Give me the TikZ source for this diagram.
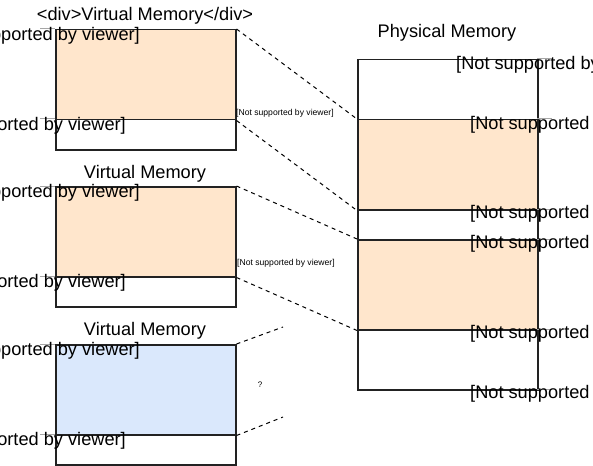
\documentclass[tikz,border=0pt]{standalone}
\usepackage{fontspec}
\setmainfont{Liberation Sans}
\definecolor{peach}{HTML}{FFE6CC}
\definecolor{paleblue}{HTML}{DAE8FC}
\definecolor{edge}{HTML}{222222}

\tikzset{
	seg/.style={draw=edge,line width=1.5pt,inner sep=0pt,minimum width=180pt,anchor=north west},
	title/.style={font=\fontsize{18.2}{21}\selectfont,inner sep=0pt},
	lbl/.style={font=\fontsize{18.2}{21}\selectfont,inner sep=0pt},
	tiny/.style={font=\fontsize{8.6}{10}\selectfont,inner sep=0pt,anchor=west},
	tick/.style={draw=gray!70,line width=1pt},
	map/.style={draw=black,line width=1pt,dash pattern=on 4pt off 4pt}
}

\begin{document}
\begin{tikzpicture}[x=1pt,y=-1pt]
	\useasboundingbox (0,0) rectangle (593,465);

	% virtual memory blocks
	\node[seg,fill=peach,minimum height=90pt] (vmA) at (55,29) {};
	\node[seg,minimum height=30pt] (vmAfree) at (55,119) {};
	\node[seg,fill=peach,minimum height=90pt] (vmB) at (55,186) {};
	\node[seg,minimum height=30pt] (vmBfree) at (55,276) {};
	\node[seg,fill=paleblue,minimum height=90pt] (vmC) at (55,344) {};
	\node[seg,minimum height=30pt] (vmCfree) at (55,434) {};

	\node[title] (tA) at (145,15.5) {<div>Virtual Memory</div>};
	\node[title] (tB) at (145,174) {Virtual Memory};
	\node[title] (tC) at (145,331) {Virtual Memory};

	% physical memory
	\node[seg,minimum height=60pt] (pmTop) at (357,59) {};
	\node[seg,fill=peach,minimum height=90pt] (pmA) at (357,119) {};
	\node[seg,minimum height=30pt] (pmGap) at (357,209) {};
	\node[seg,fill=peach,minimum height=90pt] (pmB) at (357,239) {};
	\node[seg,minimum height=60pt] (pmBot) at (357,329) {};
	\node[title] (tP) at (447,33) {Physical Memory};

	% ticks and labels on the left
	\foreach \y [count=\i] in {29,119,186,276,344,434} {
		\coordinate (lt\i) at (40,\y);
		\draw[tick] (lt\i) -- ++(15,0);
	}
	\foreach \y [count=\i] in {29,186,344} {
		\node[lbl,anchor=east] (lu\i) at (140,\y+6.5) {[Not supported by viewer]};
	}
	\foreach \y [count=\i] in {119,276,434} {
		\node[lbl,anchor=east] (ls\i) at (126,\y+6.5) {[Not supported by viewer]};
	}

	% ticks and labels on the right
	\foreach \y [count=\i] in {59,119,209,239,329,389} {
		\coordinate (rt\i) at (537,\y);
		\draw[tick] (rt\i) -- ++(15,0);
	}
	\node[lbl,anchor=west] (rl1) at (456,65) {[Not supported by viewer]};
	\foreach \y [count=\i from 2] in {125,214,244,334,394} {
		\node[lbl,anchor=west] (rl\i) at (470,\y) {[Not supported by viewer]};
	}

	% mappings
	\draw[map] (vmA.north east) -- (pmA.north west);
	\draw[map] (vmA.south east) -- (pmA.south west);
	\draw[map] (vmB.north east) -- (pmB.north west);
	\draw[map] (vmB.south east) -- (pmB.south west);
	\coordinate (qTop) at (283,327);
	\coordinate (qBot) at (283,417);
	\draw[map] (vmC.north east) -- (qTop);
	\draw[map] (vmC.south east) -- (qBot);

	\node[tiny] (sA) at (236,113) {[Not supported by viewer]};
	\node[tiny] (sB) at (237,263) {[Not supported by viewer]};
	\node[font=\fontsize{8}{9}\selectfont,inner sep=0pt] (q) at (260,385) {?};
\end{tikzpicture}
\end{document}
